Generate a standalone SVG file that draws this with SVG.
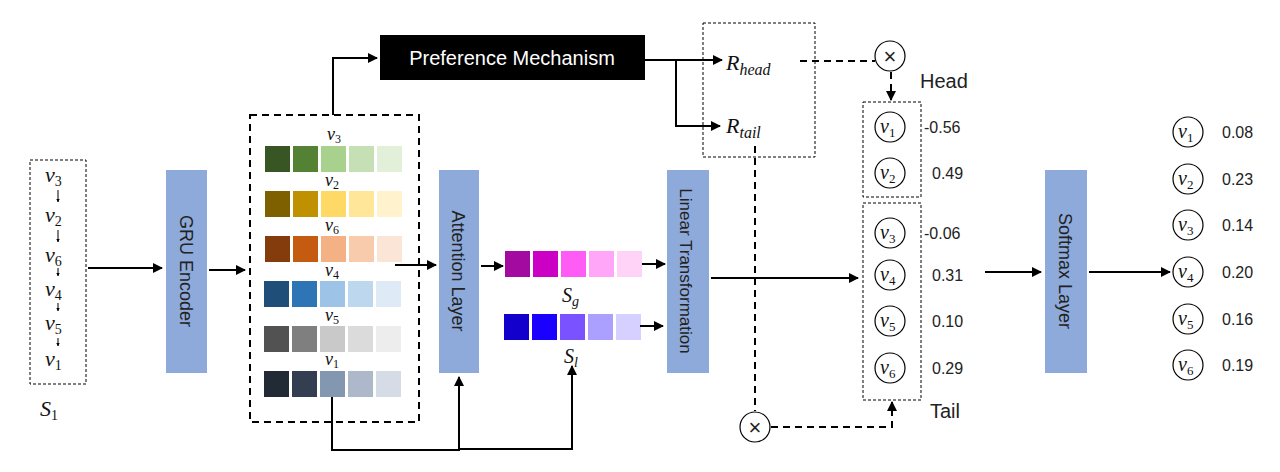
<svg xmlns="http://www.w3.org/2000/svg" width="1280" height="472" viewBox="0 0 1280 472">
<style>
.s{font-family:"Liberation Sans",Arial,sans-serif;fill:#222}
.m{font-family:"Liberation Serif","DejaVu Serif",serif;font-style:italic;fill:#111}
.blk{fill:#8eaadb}
.ln{stroke:#000;stroke-width:2;fill:none}
.dl{stroke:#000;stroke-width:1;fill:none;stroke-dasharray:3,2}
.dd{stroke:#000;stroke-width:2;fill:none;stroke-dasharray:7,5}
.c{fill:#fff;stroke:#000;stroke-width:1.2}
</style>
<defs>
<marker id="a" viewBox="0 0 10 10" refX="9" refY="5" markerWidth="5" markerHeight="5" orient="auto"><path d="M0,0L10,5L0,10z" fill="#000"/></marker>
<marker id="b" viewBox="0 0 10 10" refX="9" refY="5" markerWidth="3.5" markerHeight="3.5" orient="auto"><path d="M0,0L10,5L0,10z" fill="#000"/></marker>
</defs>
<rect width="1280" height="472" fill="#fff"/>

<g id="seq">
<rect x="30" y="160" width="56" height="224" class="dl"/>
<g class="m" font-size="22">
<text x="45" y="182">v<tspan font-size="14" dy="4" font-style="normal">3</tspan></text>
<text x="45" y="222">v<tspan font-size="14" dy="4" font-style="normal">2</tspan></text>
<text x="45" y="262">v<tspan font-size="14" dy="4" font-style="normal">6</tspan></text>
<text x="45" y="296">v<tspan font-size="14" dy="4" font-style="normal">4</tspan></text>
<text x="45" y="330">v<tspan font-size="14" dy="4" font-style="normal">5</tspan></text>
<text x="45" y="366">v<tspan font-size="14" dy="4" font-style="normal">1</tspan></text>
</g>
<g stroke="#000" stroke-width="1" marker-end="url(#b)">
<line x1="58" y1="190" x2="58" y2="202"/><line x1="58" y1="230" x2="58" y2="242"/>
<line x1="58" y1="268" x2="58" y2="276"/><line x1="58" y1="303" x2="58" y2="311"/>
<line x1="58" y1="338" x2="58" y2="346"/>
</g>
<text x="40" y="416" class="m" font-size="22">S<tspan font-size="14" dy="4" font-style="normal">1</tspan></text>
</g>

<g id="gru"><rect x="166" y="170" width="41" height="203" class="blk"/>
<text class="s" font-size="18" transform="translate(180,271) rotate(90)" text-anchor="middle">GRU Encoder</text></g>

<g id="emb">
<rect x="250" y="115" width="169" height="307" class="dd"/>
<g>
<rect x="265" y="146" width="25" height="26" fill="#375623"/><rect x="293" y="146" width="25" height="26" fill="#548235"/><rect x="321" y="146" width="25" height="26" fill="#a9d18e"/><rect x="349" y="146" width="25" height="26" fill="#c5e0b4"/><rect x="377" y="146" width="25" height="26" fill="#e2f0d9"/>
<rect x="265" y="191" width="25" height="26" fill="#7f6000"/><rect x="293" y="191" width="25" height="26" fill="#bf9000"/><rect x="321" y="191" width="25" height="26" fill="#ffd966"/><rect x="349" y="191" width="25" height="26" fill="#ffe699"/><rect x="377" y="191" width="25" height="26" fill="#fff2cc"/>
<rect x="265" y="236" width="25" height="26" fill="#843c0c"/><rect x="293" y="236" width="25" height="26" fill="#c55a11"/><rect x="321" y="236" width="25" height="26" fill="#f4b183"/><rect x="349" y="236" width="25" height="26" fill="#f8cbad"/><rect x="377" y="236" width="25" height="26" fill="#fbe5d6"/>
<rect x="264" y="281" width="25" height="26" fill="#1f4e79"/><rect x="292" y="281" width="25" height="26" fill="#2e75b6"/><rect x="320" y="281" width="25" height="26" fill="#9dc3e6"/><rect x="348" y="281" width="25" height="26" fill="#bdd7ee"/><rect x="376" y="281" width="25" height="26" fill="#deebf7"/>
<rect x="264" y="326" width="25" height="26" fill="#525252"/><rect x="292" y="326" width="25" height="26" fill="#7f7f7f"/><rect x="320" y="326" width="25" height="26" fill="#c9c9c9"/><rect x="348" y="326" width="25" height="26" fill="#dbdbdb"/><rect x="376" y="326" width="25" height="26" fill="#ededed"/>
<rect x="264" y="371" width="25" height="26" fill="#222a35"/><rect x="292" y="371" width="25" height="26" fill="#333f50"/><rect x="320" y="371" width="25" height="26" fill="#8497b0"/><rect x="348" y="371" width="25" height="26" fill="#adb9ca"/><rect x="376" y="371" width="25" height="26" fill="#d6dce5"/>
</g>
<g class="m" font-size="18">
<text x="327" y="140">v<tspan font-size="12" dy="3" font-style="normal">3</tspan></text>
<text x="325" y="186">v<tspan font-size="12" dy="3" font-style="normal">2</tspan></text>
<text x="325" y="231">v<tspan font-size="12" dy="3" font-style="normal">6</tspan></text>
<text x="325" y="276">v<tspan font-size="12" dy="3" font-style="normal">4</tspan></text>
<text x="325" y="321">v<tspan font-size="12" dy="3" font-style="normal">5</tspan></text>
<text x="325" y="365">v<tspan font-size="12" dy="3" font-style="normal">1</tspan></text>
</g>
</g>

<g id="att"><rect x="439" y="170" width="40" height="203" class="blk"/>
<text class="s" font-size="18" transform="translate(452,271) rotate(90)" text-anchor="middle">Attention Layer</text></g>

<g id="sg">
<rect x="505" y="251" width="25" height="26" fill="#a20aa0"/><rect x="533" y="251" width="25" height="26" fill="#cc00c4"/><rect x="561" y="251" width="25" height="26" fill="#ff5cf5"/><rect x="589" y="251" width="25" height="26" fill="#ffa6f8"/><rect x="617" y="251" width="25" height="26" fill="#ffd3f7"/>
<text x="562" y="302" class="m" font-size="20">S<tspan font-size="14" dy="4">g</tspan></text>
</g>
<g id="sl">
<rect x="504" y="314" width="25" height="26" fill="#1400cc"/><rect x="532" y="314" width="25" height="26" fill="#1a00ff"/><rect x="560" y="314" width="25" height="26" fill="#7a52ff"/><rect x="588" y="314" width="25" height="26" fill="#ab9fff"/><rect x="616" y="314" width="25" height="26" fill="#d5d0ff"/>
<text x="564" y="363" class="m" font-size="20">S<tspan font-size="14" dy="4">l</tspan></text>
</g>

<g id="lin"><rect x="667" y="170" width="42" height="203" class="blk"/>
<text class="s" font-size="17" transform="translate(680,271) rotate(90)" text-anchor="middle">Linear Transformation</text></g>

<g id="pref"><rect x="380" y="35" width="265" height="45" fill="#000"/>
<text x="512" y="65" class="s" fill="#fff" style="fill:#fff" font-size="20" text-anchor="middle">Preference Mechanism</text></g>

<g id="r">
<rect x="703" y="23" width="112" height="134" class="dl"/>
<text x="726" y="70" class="m" font-size="22">R<tspan font-size="16" dy="5">head</tspan></text>
<text x="726" y="133" class="m" font-size="22">R<tspan font-size="16" dy="5">tail</tspan></text>
</g>

<g id="mul1"><circle cx="890" cy="56" r="15" class="c"/><text x="890" y="64" class="s" font-size="22" text-anchor="middle">×</text></g>
<g id="mul2"><circle cx="755" cy="427" r="15" class="c"/><text x="755" y="435" class="s" font-size="22" text-anchor="middle">×</text></g>

<g id="head">
<rect x="863" y="102" width="58" height="95" class="dl"/>
<text x="920" y="88" class="s" font-size="20">Head</text>
</g>
<g id="tail">
<rect x="863" y="203" width="58" height="197" class="dl"/>
<text x="930" y="418" class="s" font-size="20">Tail</text>
</g>
<g id="items" class="m" font-size="20">
<circle cx="890" cy="127" r="15" class="c"/><text x="880" y="133">v<tspan font-size="13" dy="4" font-style="normal">1</tspan></text>
<circle cx="890" cy="173" r="15" class="c"/><text x="880" y="179">v<tspan font-size="13" dy="4" font-style="normal">2</tspan></text>
<circle cx="890" cy="233" r="15" class="c"/><text x="880" y="239">v<tspan font-size="13" dy="4" font-style="normal">3</tspan></text>
<circle cx="890" cy="275" r="15" class="c"/><text x="880" y="281">v<tspan font-size="13" dy="4" font-style="normal">4</tspan></text>
<circle cx="890" cy="321" r="15" class="c"/><text x="880" y="327">v<tspan font-size="13" dy="4" font-style="normal">5</tspan></text>
<circle cx="890" cy="368" r="15" class="c"/><text x="880" y="374">v<tspan font-size="13" dy="4" font-style="normal">6</tspan></text>
</g>
<g class="s" font-size="16">
<text x="924" y="133">-0.56</text><text x="932" y="179">0.49</text>
<text x="924" y="239">-0.06</text><text x="932" y="281">0.31</text>
<text x="932" y="327">0.10</text><text x="932" y="374">0.29</text>
</g>

<g id="soft"><rect x="1045" y="170" width="42" height="203" class="blk"/>
<text class="s" font-size="18" transform="translate(1059,271) rotate(90)" text-anchor="middle">Softmax Layer</text></g>

<g id="out" class="m" font-size="20">
<circle cx="1188" cy="132" r="15" class="c"/><text x="1178" y="138">v<tspan font-size="13" dy="4" font-style="normal">1</tspan></text>
<circle cx="1188" cy="179" r="15" class="c"/><text x="1178" y="185">v<tspan font-size="13" dy="4" font-style="normal">2</tspan></text>
<circle cx="1188" cy="225" r="15" class="c"/><text x="1178" y="231">v<tspan font-size="13" dy="4" font-style="normal">3</tspan></text>
<circle cx="1188" cy="272" r="15" class="c"/><text x="1178" y="278">v<tspan font-size="13" dy="4" font-style="normal">4</tspan></text>
<circle cx="1188" cy="319" r="15" class="c"/><text x="1178" y="325">v<tspan font-size="13" dy="4" font-style="normal">5</tspan></text>
<circle cx="1188" cy="365" r="15" class="c"/><text x="1178" y="371">v<tspan font-size="13" dy="4" font-style="normal">6</tspan></text>
</g>
<g class="s" font-size="16">
<text x="1222" y="138">0.08</text><text x="1222" y="185">0.23</text><text x="1222" y="231">0.14</text>
<text x="1222" y="278">0.20</text><text x="1222" y="325">0.16</text><text x="1222" y="371">0.19</text>
</g>

<g id="connectors">
<line x1="88" y1="268" x2="162" y2="268" class="ln" marker-end="url(#a)"/>
<line x1="209" y1="270" x2="245" y2="270" class="ln" marker-end="url(#a)"/>
<line x1="395" y1="265" x2="436" y2="265" class="ln" marker-end="url(#a)"/>
<line x1="481" y1="266" x2="503" y2="266" class="ln" marker-end="url(#a)"/>
<line x1="642" y1="264" x2="665" y2="264" class="ln" marker-end="url(#a)"/>
<line x1="640" y1="326" x2="663" y2="326" class="ln" marker-end="url(#a)"/>
<polyline points="332,397 332,450 459,450 459,377" class="ln" marker-end="url(#a)"/>
<polyline points="459,449 572,449 572,366" class="ln" marker-end="url(#a)"/>
<polyline points="333,115 333,58 377,58" class="ln" marker-end="url(#a)"/>
<line x1="645" y1="60" x2="722" y2="60" class="ln" marker-end="url(#a)"/>
<polyline points="676,60 676,126 720,126" class="ln" marker-end="url(#a)"/>
<line x1="800" y1="61" x2="875" y2="61" class="dd" stroke-width="1.6"/>
<line x1="891" y1="72" x2="891" y2="100" class="dd" stroke-width="1.6" stroke-dasharray="5,4" marker-end="url(#a)"/>
<line x1="755" y1="146" x2="755" y2="411" class="dd" stroke-width="1.6"/>
<polyline points="771,427 892,427 892,402" class="dd" stroke-width="1.6" stroke-dasharray="5,4" marker-end="url(#a)"/>
<line x1="711" y1="278" x2="858" y2="278" class="ln" marker-end="url(#a)"/>
<line x1="985" y1="272" x2="1041" y2="272" class="ln" marker-end="url(#a)"/>
<line x1="1089" y1="272" x2="1170" y2="272" class="ln" marker-end="url(#a)"/>
</g>
</svg>
